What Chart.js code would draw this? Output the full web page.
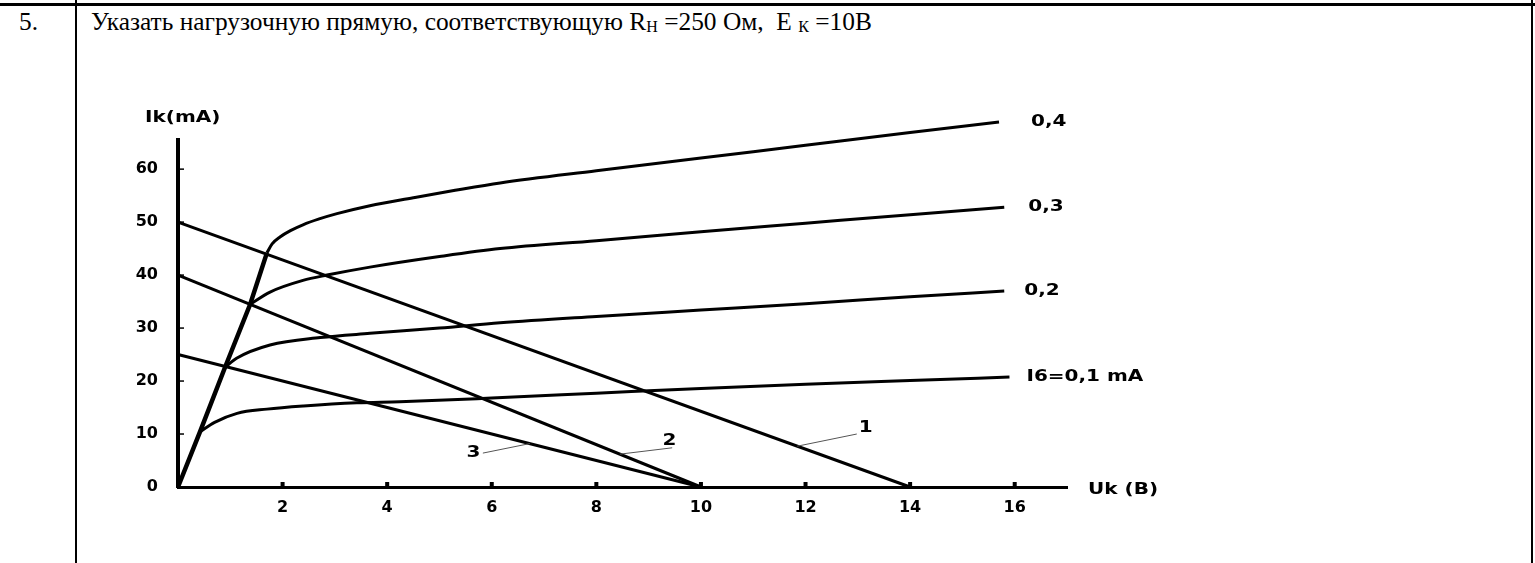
<!DOCTYPE html>
<html>
<head>
<meta charset="utf-8">
<script src="https://cdn.jsdelivr.net/npm/chart.js@4.4.1/dist/chart.umd.min.js"></script>
<style>
  html, body { margin: 0; padding: 0; background: #fff; }
  body { width: 1535px; height: 563px; position: relative; overflow: hidden; }
  .rule { position: absolute; background: #000; }
  #num, #title { position: absolute; font-family: "Liberation Serif", serif; font-size: 25.4px; color: #000; white-space: nowrap; }
  #num { left: 19px; top: 7px; }
  #title { left: 91px; top: 7px; }
  #title sub { font-size: 16px; vertical-align: -2px; }
  #chart { position: absolute; left: 0; top: 0; }
</style>
</head>
<body>
<div class="rule" style="left:0;top:3px;width:1535px;height:3px"></div>
<div class="rule" style="left:75px;top:0;width:2px;height:563px"></div>
<div class="rule" style="left:1531px;top:0;width:2px;height:563px"></div>
<div id="num">5.</div>
<div id="title">Указать нагрузочную прямую, соответствующую R<sub>Н</sub> =250 Ом,&nbsp; E <sub>К</sub> =10В</div>
<canvas id="chart" width="1535" height="563"></canvas>
<script>
// output characteristics, Uk in volts, Ik in mA
const riseUk = [0, 0.42, 0.9, 1.38, 1.7];
const riseIk = [0, 10.4, 22.6, 34.5, 44.2];

const ib04Uk = [1.7, 1.8, 1.95, 2.15, 2.39, 2.7, 3.04, 3.67, 4.5, 5.3, 6.16, 8, 10, 12, 14, 15.7];
const ib04Ik = [44.2, 45.9, 47.2, 48.4, 49.5, 50.6, 51.6, 53.1, 54.6, 56, 57.4, 59.7, 62.1, 64.5, 66.9, 68.9];

const ib03Uk = [1.38, 1.76, 2.39, 2.85, 3.67, 5, 6.16, 8, 10, 12, 14, 15.8];
const ib03Ik = [34.5, 36.8, 39, 40, 41.5, 43.5, 45, 46.5, 48.2, 49.8, 51.4, 52.8];

const ib02Uk = [0.9, 1.12, 1.76, 2.72, 3.67, 5, 6.16, 8, 10, 12, 14, 15.8];
const ib02Ik = [22.6, 24.3, 26.8, 28.2, 29.0, 30, 31, 32.2, 33.4, 34.6, 35.9, 37];

const ib01Uk = [0.42, 0.7, 1.13, 1.7, 2.4, 3.42, 4.24, 6, 8, 10, 12, 14, 15.9];
const ib01Ik = [10.4, 12.2, 13.9, 14.7, 15.3, 15.9, 16.1, 16.8, 17.7, 18.6, 19.4, 20.1, 20.75];

const curveLabels = ['0,4', '0,3', '0,2', 'I6=0,1 mA'];
const curveLabelGap = [32, 24, 20, 17];

// load lines 1, 2, 3
const loadNames = ['1', '2', '3'];
const loadUk = [[0, 14], [0, 10], [0, 10]];
const loadIk = [[50, 0], [40, 0], [25, 0]];
// leader line (from, to) and label spot for each load line
const leaderUk = [[11.84, 12.98], [8.45, 9.45], [6.73, 5.83]];
const leaderIk = [[7.7, 10.0], [6.2, 7.4], [8.2, 6.4]];
const leaderTextUk = [13.15, 9.4, 5.65];
const leaderTextIk = [11.2, 8.7, 6.5];

const xTicks = [2, 4, 6, 8, 10, 12, 14, 16];
const yTicks = [0, 10, 20, 30, 40, 50, 60];

const toPoints = (xs, ys) => xs.map((x, i) => ({ x: x, y: ys[i] }));

const curve = (xs, ys) => ({
  data: toPoints(xs, ys),
  showLine: true,
  borderColor: '#000',
  borderWidth: 3,
  pointRadius: 0,
  cubicInterpolationMode: 'monotone',
  clip: false
});

const datasets = [
  Object.assign(curve(riseUk, riseIk), { borderWidth: 4.5, cubicInterpolationMode: 'default', tension: 0 }),
  curve(ib04Uk, ib04Ik),
  curve(ib03Uk, ib03Ik),
  curve(ib02Uk, ib02Ik),
  curve(ib01Uk, ib01Ik)
];
loadUk.forEach((xs, i) => {
  datasets.push(Object.assign(curve(xs, loadIk[i]), { tension: 0, cubicInterpolationMode: 'default' }));
});
const curveEnds = [ib04Uk, ib03Uk, ib02Uk, ib01Uk].map((xs, i) => {
  const ys = [ib04Ik, ib03Ik, ib02Ik, ib01Ik][i];
  return { x: xs[xs.length - 1], y: ys[ys.length - 1] };
});

const labelFont = 'bold 16px "DejaVu Sans"';

function wideText(ctx, txt, x, y, align) {
  ctx.save();
  ctx.translate(x, y);
  ctx.scale(1.25, 1);
  ctx.textAlign = align || 'left';
  ctx.textBaseline = 'middle';
  ctx.fillText(txt, 0, 0);
  ctx.restore();
}

const decor = {
  id: 'decor',
  afterDatasetsDraw(chart) {
    const ctx = chart.ctx;
    const xs = chart.scales.x, ys = chart.scales.y;
    const area = chart.chartArea;
    ctx.save();
    ctx.fillStyle = '#000';
    ctx.strokeStyle = '#000';
    // tick marks sit inside the plot
    xTicks.forEach(v => {
      const px = xs.getPixelForValue(v);
      ctx.fillRect(px - 2, area.bottom - 5, 4, 5);
    });
    ctx.lineWidth = 1.5;
    yTicks.slice(1).forEach(v => {
      const py = ys.getPixelForValue(v);
      ctx.beginPath();
      ctx.moveTo(area.left, py);
      ctx.lineTo(area.left + 6, py);
      ctx.stroke();
    });
    // leaders for the load lines
    ctx.strokeStyle = '#555';
    ctx.lineWidth = 1;
    leaderUk.forEach((u, i) => {
      ctx.beginPath();
      ctx.moveTo(xs.getPixelForValue(u[0]), ys.getPixelForValue(leaderIk[i][0]));
      ctx.lineTo(xs.getPixelForValue(u[1]), ys.getPixelForValue(leaderIk[i][1]));
      ctx.stroke();
    });
    ctx.font = labelFont;
    loadNames.forEach((n, i) => {
      wideText(ctx, n, xs.getPixelForValue(leaderTextUk[i]), ys.getPixelForValue(leaderTextIk[i]), 'center');
    });
    // curve names
    curveEnds.forEach((p, i) => {
      wideText(ctx, curveLabels[i], xs.getPixelForValue(p.x) + curveLabelGap[i], ys.getPixelForValue(p.y), 'left');
    });
    // axis names
    wideText(ctx, 'Ik(mA)', area.left - 33, area.top - 22, 'left');
    wideText(ctx, 'Uk (B)', area.right + 21, area.bottom + 3, 'left');
    ctx.restore();
  }
};

const tickFont = { family: 'DejaVu Sans', weight: 'bold', size: 16 };

new Chart(document.getElementById('chart'), {
  type: 'scatter',
  data: { datasets: datasets },
  options: {
    responsive: false,
    animation: false,
    events: [],
    layout: { padding: { left: 100, top: 140, right: 468, bottom: 0 } },
    plugins: { legend: { display: false }, tooltip: { enabled: false } },
    scales: {
      x: {
        type: 'linear', min: 0, max: 17,
        grid: { display: false },
        border: { color: '#000', width: 3 },
        ticks: {
          stepSize: 2, includeBounds: false, padding: 3, color: '#000', font: tickFont,
          callback: v => (v === 0 ? '' : v)
        },
        afterFit: s => { s.height = 76; }
      },
      y: {
        type: 'linear', min: 0, max: 65.5,
        grid: { display: false },
        border: { color: '#000', width: 4 },
        ticks: { stepSize: 10, includeBounds: false, padding: 12, color: '#000', font: tickFont },
        afterFit: s => { s.width = 78; }
      }
    }
  },
  plugins: [decor]
});
</script>
</body>
</html>
